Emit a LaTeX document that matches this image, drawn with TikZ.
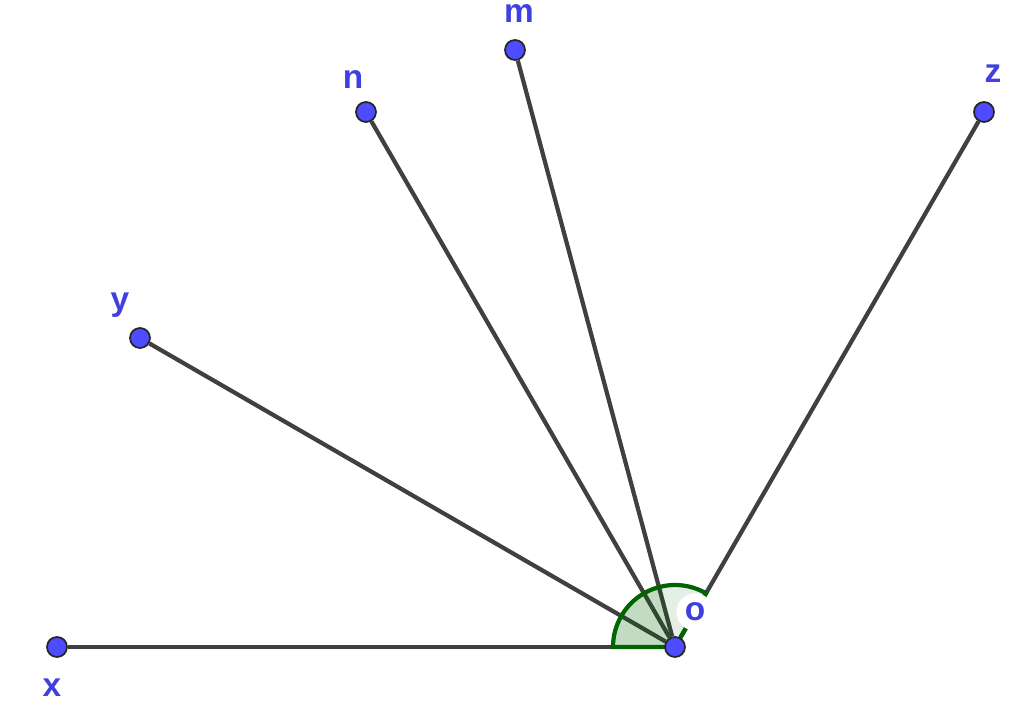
\documentclass[tikz,border=0pt]{standalone}
\usepackage{fontspec}
\setsansfont{Liberation Sans}
\usetikzlibrary{backgrounds}
\definecolor{ptblue}{RGB}{77,77,255}
\definecolor{lblblue}{RGB}{64,64,225}
\definecolor{segray}{RGB}{64,64,64}
\definecolor{anggreen}{RGB}{0,100,0}
\begin{document}
\begin{tikzpicture}
  \useasboundingbox (0,0) rectangle (10.24,7.18);
  \tikzset{lbl/.style={text=lblblue, font=\sffamily\bfseries\fontsize{9.5}{11}\selectfont, inner sep=1pt}}

      \begin{scope}[every node/.style={circle, draw=black!85, fill=ptblue, line width=0.5pt, inner sep=0pt, minimum size=0.2cm}]
        \node (o) at (6.75,0.71) [label={[lbl,fill=white,xshift=0.20cm,yshift=0.35cm]center:o}] {};
        \node (x) at (0.57,0.71) [label={[lbl,xshift=-0.05cm,yshift=-0.41cm]center:x}] {};
        \node (y) at (1.40,3.80) [label={[lbl,xshift=-0.20cm,yshift=0.33cm]center:y}] {};
        \node (n) at (3.66,6.06) [label={[lbl,xshift=-0.13cm,yshift=0.32cm]center:n}] {};
        \node (m) at (5.15,6.68) [label={[lbl,xshift=0.04cm,yshift=0.36cm]center:m}] {};
        \node (z) at (9.84,6.06) [label={[lbl,xshift=0.09cm,yshift=0.38cm]center:z}] {};
      \end{scope}

      \begin{scope}[on background layer]
        \begin{scope}[every edge/.style={draw, segray, line width=1.2pt}]
          \path (o) edge (x);
          \path (o) edge (y);
          \path (o) edge (n);
          \path (o) edge (m);
          \path (o) edge (z);
        \end{scope}

        % angle marks
        \fill[anggreen, fill opacity=0.15]
          (o.center) -- ++(105:0.62) arc (105:180:0.62) -- cycle;
        \filldraw[anggreen, line width=1.2pt, fill opacity=0.1]
          (o.center) -- ++(60:0.62) arc (60:180:0.62) -- cycle;
      \end{scope}

\end{tikzpicture}
\end{document}
